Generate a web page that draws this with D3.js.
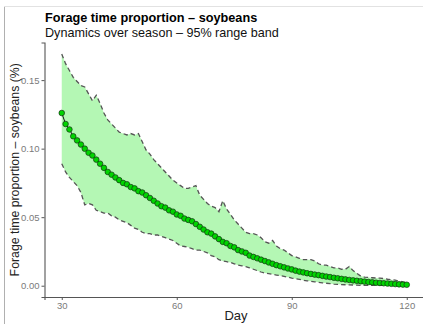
<!DOCTYPE html>
<html>
<head>
<meta charset="utf-8">
<script src="https://cdn.jsdelivr.net/npm/d3@7"></script>
<style>
  body { margin: 0; background: #fff; }
  text { font-family: "Liberation Sans", Arial, sans-serif; }
</style>
</head>
<body>
<svg id="chart" width="423" height="324"></svg>
<script>
// days of the season
const days = d3.range(30, 121);

// mean forage time proportion per day
const meanVals = [
  .126, .118, .114, .109, .106, .103, .100, .097, .095, .092,
  .089, .086, .083, .081, .079, .077, .075, .074, .072, .071,
  .069, .068, .066, .064, .062, .060, .058, .057, .055, .054,
  .052, .051, .049, .048, .047, .045, .043, .041, .039, .038,
  .036, .034, .032, .031, .029, .028, .026, .025, .024, .022,
  .021, .020, .019, .018, .017, .016, .0150, .0142, .0134, .0126,
  .0119, .0110, .0103, .0097, .0091, .0086, .0081, .0077, .0072, .0067,
  .0063, .0058, .0054, .0050, .0046, .0042, .0039, .0036, .0033, .0030,
  .0027, .0025, .0022, .0020, .0018, .0016, .0014, .0012, .0010, .0008,
  .0007
];

// upper edge of the 95% range band
const upperVals = [
  .169, .162, .157, .152, .149, .146, .145, .140, .135, .139,
  .133, .126, .121, .118, .115, .112, .111, .110, .111, .110,
  .111, .105, .099, .096, .092, .089, .086, .083, .080, .077,
  .075, .073, .071, .071, .072, .073, .066, .063, .060, .058,
  .057, .054, .062, .056, .052, .048, .045, .042, .039, .038,
  .038, .037, .035, .032, .031, .033, .029, .027, .026, .024,
  .022, .021, .020, .019, .019, .019, .018, .016, .015, .015,
  .014, .013, .013, .012, .012, .014, .011, .009, .007, .0063,
  .0060, .0058, .0056, .0055, .0052, .0047, .0044, .0040, .0034, .0028,
  .0024
];

// lower edge of the 95% range band
const lowerVals = [
  .089, .083, .079, .076, .073, .068, .059, .060, .059, .055,
  .054, .053, .053, .051, .050, .048, .047, .046, .044, .042,
  .041, .039, .038, .038, .037, .037, .036, .035, .034, .033,
  .031, .029, .0286, .028, .027, .026, .026, .025, .024, .022,
  .021, .019, .018, .0175, .017, .016, .015, .0145, .014, .013,
  .012, .011, .010, .0092, .0088, .0083, .0078, .0073, .0068, .0062,
  .0056, .0051, .0046, .0040, .0036, .0032, .0028, .0025, .0021, .0018,
  .0015, .0012, .0010, .0008, .0007, .0006, .0005, .0004, .0003, .0003,
  .0002, .0002, .0002, .0002, .0002, .0002, .0002, .0002, .0002, .0002,
  .0002
];

const xTicks = [30, 60, 90, 120];
const yTicks = [0, 0.05, 0.10, 0.15];

const rows = days.map((d, i) => ({ day: d, mean: meanVals[i], lo: lowerVals[i], hi: upperVals[i] }));

const svg = d3.select("#chart");
const panel = { left: 44.5, right: 424, top: 42.5, bottom: 297 };

// ggplot-style 5% expansion
const xExt = d3.extent(days);
const xPad = (xExt[1] - xExt[0]) * 0.05;
const yMin = d3.min(lowerVals), yMax = d3.max(upperVals);
const yPad = (yMax - yMin) * 0.05;

const x = d3.scaleLinear().domain([xExt[0] - xPad, xExt[1] + xPad]).range([panel.left, panel.right]);
const y = d3.scaleLinear().domain([yMin - yPad, yMax + yPad]).range([panel.bottom, panel.top]);

// frame lines of the original screenshot
svg.append("line").attr("x1", 4.5).attr("x2", 4.5).attr("y1", 6).attr("y2", 324)
  .attr("stroke", "#b0b0b0").attr("stroke-width", 1);
svg.append("line").attr("x1", 4).attr("x2", 423).attr("y1", 6.5).attr("y2", 6.5)
  .attr("stroke", "#e2e2e2").attr("stroke-width", 1);

// band
svg.append("path")
  .datum(rows)
  .attr("d", d3.area().x(d => x(d.day)).y0(d => y(d.lo)).y1(d => y(d.hi)))
  .attr("fill", "#b4f7b4");

["hi", "lo"].forEach(k => {
  svg.append("path")
    .datum(rows)
    .attr("d", d3.line().x(d => x(d.day)).y(d => y(d[k])))
    .attr("fill", "none")
    .attr("stroke", "#555")
    .attr("stroke-width", 1.3)
    .attr("stroke-dasharray", "4.5,3");
});

// mean line and points
svg.append("path")
  .datum(rows)
  .attr("d", d3.line().x(d => x(d.day)).y(d => y(d.mean)))
  .attr("fill", "none")
  .attr("stroke", "#111")
  .attr("stroke-width", 1);

svg.append("g")
  .selectAll("circle")
  .data(rows)
  .join("circle")
  .attr("cx", d => x(d.day))
  .attr("cy", d => y(d.mean))
  .attr("r", 2.8)
  .attr("fill", "#00d400")
  .attr("stroke", "#143214")
  .attr("stroke-width", 0.7);

// axes
const xAxis = svg.append("g")
  .attr("transform", `translate(0,${panel.bottom})`)
  .call(d3.axisBottom(x).tickValues(xTicks).tickSize(3).tickPadding(2).tickFormat(d3.format("d")));
const yAxis = svg.append("g")
  .attr("transform", `translate(${panel.left},0)`)
  .call(d3.axisLeft(y).tickValues(yTicks).tickSize(3).tickPadding(2).tickFormat(d3.format(".2f")));

[xAxis, yAxis].forEach(g => {
  g.select(".domain").attr("stroke", "#555").attr("stroke-width", 1.1);
  g.selectAll(".tick line").attr("stroke", "#555");
  g.selectAll(".tick text").attr("fill", "#7a7a7a").style("font-size", "9.5px")
    .style("font-family", "Liberation Sans, Arial, sans-serif");
});

// titles
svg.append("text").attr("x", 45).attr("y", 21.5)
  .attr("font-weight", "bold").attr("font-size", 12.7).attr("fill", "#000")
  .text("Forage time proportion – soybeans");
svg.append("text").attr("x", 45).attr("y", 36.5)
  .attr("font-size", 12.6).attr("fill", "#111")
  .text("Dynamics over season – 95% range band");

svg.append("text")
  .attr("x", 236).attr("y", 320)
  .attr("text-anchor", "middle").attr("font-size", 13).attr("fill", "#222")
  .text("Day");

svg.append("text")
  .attr("transform", `translate(18.5,${(panel.top + panel.bottom) / 2}) rotate(-90)`)
  .attr("text-anchor", "middle").attr("font-size", 12.3).attr("fill", "#222")
  .text("Forage time proportion – soybeans (%)");
</script>
</body>
</html>
